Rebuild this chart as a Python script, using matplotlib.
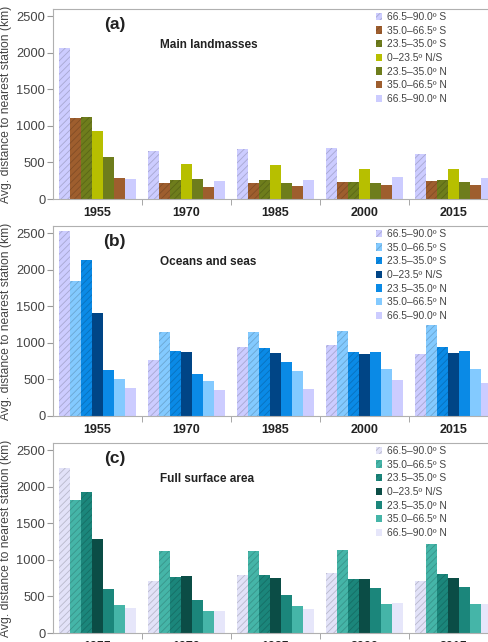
import numpy as np
import matplotlib
matplotlib.use("Agg")
import matplotlib.pyplot as plt
from matplotlib.colors import to_rgb

plt.rcParams['font.family'] = ['Liberation Sans', 'DejaVu Sans']
plt.rcParams['hatch.linewidth'] = 0.6

years = ["1955", "1970", "1985", "2000", "2015"]
bands = ["66.5–90.0º S", "35.0–66.5º S", "23.5–35.0º S", "0–23.5º N/S",
         "23.5–35.0º N", "35.0–66.5º N", "66.5–90.0º N"]
hatched = [True, True, True, False, False, False, False]

# (a) main landmasses, one row per latitude band, columns = years
land = [
    [2065, 654, 688, 703, 622],
    [1110, 218, 220, 228, 250],
    [1125, 262, 257, 235, 255],
    [935, 477, 468, 414, 414],
    [578, 268, 220, 215, 239],
    [286, 170, 172, 185, 196],
    [268, 245, 266, 297, 284],
]
# (b) oceans and seas
ocean = [
    [2525, 765, 938, 970, 850],
    [1850, 1150, 1143, 1160, 1245],
    [2140, 885, 927, 870, 950],
    [1403, 878, 856, 843, 860],
    [624, 578, 742, 878, 890],
    [510, 474, 615, 642, 646],
    [387, 355, 373, 488, 451],
]
# (c) full surface area
full = [
    [2259, 710, 799, 822, 716],
    [1825, 1118, 1118, 1132, 1219],
    [1934, 762, 795, 735, 812],
    [1282, 783, 753, 735, 749],
    [598, 450, 525, 612, 625],
    [383, 303, 374, 393, 401],
    [342, 303, 333, 415, 393],
]

land_colors = ["#ccccff", "#9e5e2e", "#6e7d1c", "#b7bf00", "#6e7d1c", "#9e5e2e", "#ccccff"]
ocean_colors = ["#ccccff", "#83caff", "#0a8ae6", "#004586", "#0a8ae6", "#83caff", "#ccccff"]
full_colors = ["#e2e2f8", "#45b5a8", "#1b867b", "#0b4d46", "#1b867b", "#45b5a8", "#e6e6fa"]

panels = [
    ("(a)", "Main landmasses", land, land_colors, 199),
    ("(b)", "Oceans and seas", ocean, ocean_colors, 416),
    ("(c)", "Full surface area", full, full_colors, 633),
]

W, H = 488, 642
fig = plt.figure(figsize=(W / 100, H / 100), dpi=100)

x = np.arange(len(years))
bw = 1 / 8
grey = "#444444"

for tag, title, data, colors, base_px in panels:
    h_px = 190
    ax = fig.add_axes([53 / W, 1 - base_px / H, 445 / W, h_px / H])
    handles = []
    for k in range(7):
        c = colors[k]
        dark = tuple(v * 0.82 for v in to_rgb(c))
        bars = ax.bar(x + (k - 3) * bw, data[k], width=bw, color=c,
                      edgecolor=dark, linewidth=0,
                      hatch="/////" if hatched[k] else None,
                      label=bands[k])
        handles.append(bars)
    ax.set_xlim(-0.5, 4.5)
    ax.set_ylim(0, 2600)
    ax.set_yticks(range(0, 2501, 500))
    ax.set_xticks(x)
    ax.set_xticklabels(years, fontweight="bold", fontsize=9, color="#222222")
    ax.set_xticks(np.arange(0.5, 4.5, 1), minor=True)
    ax.tick_params(axis="x", which="major", length=0, pad=6)
    ax.tick_params(axis="x", which="minor", length=4, color="#999999")
    ax.tick_params(axis="y", length=4, color="#999999", labelsize=9.3,
                   labelcolor=grey, pad=1.5)
    for s in ["left", "bottom", "top"]:
        ax.spines[s].set_color("#b0b0b0")
    ax.spines["right"].set_visible(False)
    ax.set_ylabel("Avg. distance to nearest station (km)", fontsize=8.7,
                  color=grey, labelpad=3)
    ax.text(0.139, 0.918, tag, transform=ax.transAxes, fontsize=12.5,
            fontweight="bold", ha="center", va="center", color="#222222")
    ax.text(0.240, 0.81, title, transform=ax.transAxes, fontsize=8.5,
            fontweight="bold", ha="left", va="center", color="#222222")
    ax.legend(handles=handles, loc="upper left", bbox_to_anchor=(0.726, 0.985),
              frameon=False, fontsize=7.4, handlelength=0.6, handleheight=0.7,
              handletextpad=0.5, labelspacing=0.36, borderpad=0,
              borderaxespad=0, labelcolor=grey)

fig.savefig("out.png", dpi=100)
